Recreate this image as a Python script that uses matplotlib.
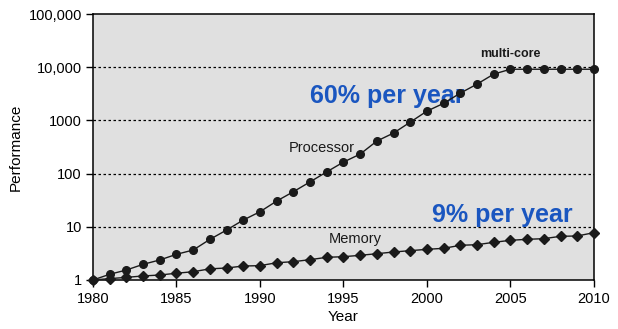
import matplotlib
matplotlib.use("Agg")
import matplotlib.pyplot as plt
from matplotlib.ticker import FixedLocator, FixedFormatter, NullLocator

plt.rcParams['font.family'] = ['Liberation Sans', 'DejaVu Sans']

years = list(range(1980, 2011))
# 处理器性能 (相对 1980)
processor = [1.0, 1.28, 1.54, 1.97, 2.38, 3.04, 3.66, 5.8, 8.7, 13.4, 19.2,
             30.5, 45.7, 70, 108, 165, 233, 410, 580, 930, 1500,
             2100, 3270, 4830, 7450, 9200, 9200, 9200, 9200, 9200, 9200]
# 内存性能
memory = [1.0, 1.06, 1.12, 1.19, 1.24, 1.34, 1.43, 1.62, 1.68, 1.83, 1.86,
          2.11, 2.21, 2.41, 2.67, 2.74, 2.91, 3.12, 3.36, 3.56, 3.77,
          3.94, 4.49, 4.61, 5.11, 5.57, 5.82, 5.98, 6.63, 6.72, 7.76]

y_ticks = [1, 10, 100, 1000, 10000, 100000]
y_labels = ["1", "10", "100", "1000", "10,000", "100,000"]
x_ticks = [1980, 1985, 1990, 1995, 2000, 2005, 2010]

blue = "#1a56c0"

fig = plt.figure(figsize=(6.18, 3.29), dpi=100)
ax = fig.add_axes([0.1505, 0.149, 0.8105, 0.808])
ax.set_facecolor("#e0e0e0")

ax.set_yscale("log")
ax.set_xlim(1980, 2010)
ax.set_ylim(1, 100000)

# 网格线
for v in y_ticks[1:-1]:
    ax.axhline(v, color="black", linewidth=0.9, linestyle=(0, (2, 2)), zorder=1)

ax.plot(years, processor, color="#1a1a1a", linewidth=1.0, marker="o",
        markersize=5.5, clip_on=False, zorder=3)
ax.plot(years, memory, color="#1a1a1a", linewidth=1.0, marker="D",
        markersize=4.8, clip_on=False, zorder=3)

ax.yaxis.set_major_locator(FixedLocator(y_ticks))
ax.yaxis.set_major_formatter(FixedFormatter(y_labels))
ax.yaxis.set_minor_locator(NullLocator())
ax.set_xticks(x_ticks)
ax.tick_params(axis="both", labelsize=10.5, length=5, width=1, direction="out")
ax.tick_params(axis="y", pad=3)

for s in ax.spines.values():
    s.set_linewidth(1.1)

ax.set_xlabel("Year", fontsize=11, labelpad=3)
ax.set_ylabel("Performance", fontsize=11, labelpad=4)

ax.text(1991.7, 300, "Processor", fontsize=10.5, color="#1a1a1a", va="center")
ax.text(1994.1, 5.9, "Memory", fontsize=10.5, color="#1a1a1a", va="center")
ax.text(2003.2, 17500, "multi-core", fontsize=9, fontweight="bold",
        color="#1a1a1a", va="center")
ax.text(1993.0, 2900, "60% per year", fontsize=18, fontweight="bold",
        color=blue, ha="left", va="center", zorder=2)
ax.text(2000.3, 16.6, "9% per year", fontsize=18, fontweight="bold",
        color=blue, ha="left", va="center", zorder=2)

fig.savefig("out.png", dpi=100)
